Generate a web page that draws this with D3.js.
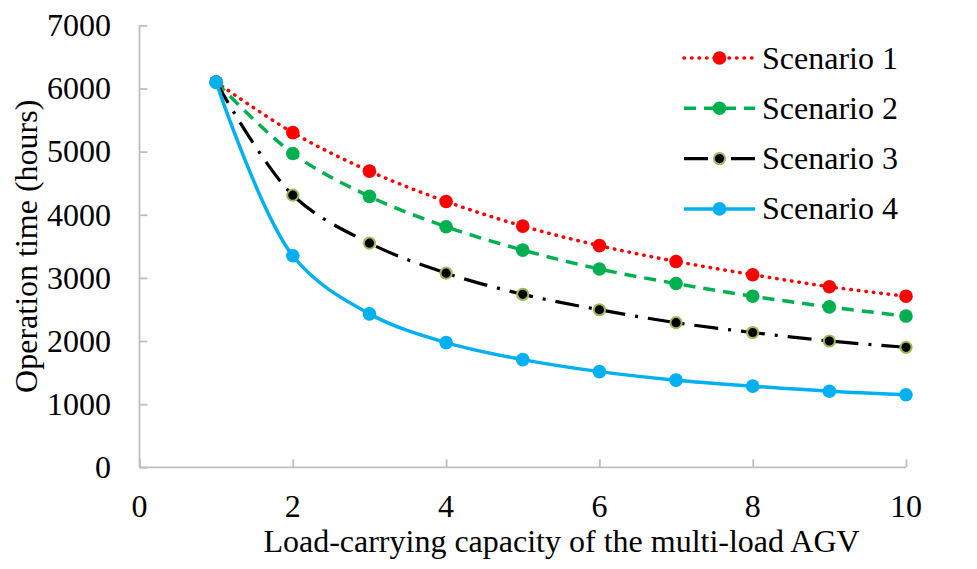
<!DOCTYPE html>
<html>
<head>
<meta charset="utf-8">
<script src="https://cdn.jsdelivr.net/npm/d3@7"></script>
<style>
  html, body { margin: 0; padding: 0; background: #fff; }
  svg { display: block; }
  text { font-family: "Liberation Serif", "Times New Roman", serif; fill: #000; }
</style>
</head>
<body>
<svg id="chart" width="977" height="569"></svg>
<script>
// Load-carrying capacity of the multi-load AGV
const capacities = [1, 2, 3, 4, 5, 6, 7, 8, 9, 10];

// Operation time (hours) per scenario
const scenario1 = [6100, 5300, 4690, 4210, 3820, 3510, 3260, 3050, 2860, 2710];
const scenario2 = [6100, 4970, 4290, 3810, 3440, 3140, 2910, 2710, 2540, 2395];
const scenario3 = [6100, 4310, 3550, 3075, 2740, 2495, 2290, 2135, 2000, 1900];
const scenario4 = [6100, 3350, 2430, 1975, 1705, 1515, 1380, 1285, 1205, 1150];

const seriesNames = ["Scenario 1", "Scenario 2", "Scenario 3", "Scenario 4"];
const xTicks = [0, 2, 4, 6, 8, 10];
const yTicks = [0, 1000, 2000, 3000, 4000, 5000, 6000, 7000];

const styles = [
  { color: "#FF0000", width: 3.5, dash: "0.5 7", cap: "round", fill: "#FF0000", stroke: "none", r: 6.8 },
  { color: "#00B050", width: 3.5, dash: "12 8", cap: "butt", fill: "#00B050", stroke: "none", r: 6.8 },
  { color: "#000000", width: 3.2, dash: "24 10 3 10", cap: "butt", fill: "#000000", stroke: "#9BBB59", r: 5.6 },
  { color: "#00B0F0", width: 3.5, dash: null, cap: "butt", fill: "#00B0F0", stroke: "none", r: 6.8 }
];

const seriesValues = [scenario1, scenario2, scenario3, scenario4];
const series = seriesNames.map((name, i) => ({
  name,
  style: styles[i],
  points: capacities.map((c, j) => ({ x: c, y: seriesValues[i][j] }))
}));

const svg = d3.select("#chart");
const margin = { left: 139.5, right: 906, top: 25.3, bottom: 467.3 };

const x = d3.scaleLinear().domain([0, 10]).range([margin.left, margin.right]);
const y = d3.scaleLinear().domain([0, 7000]).range([margin.bottom, margin.top]);

const fontSize = 32;
const axisColor = "#BFBFBF";

// Y axis: ticks drawn inward
const yAxis = svg.append("g")
  .attr("transform", `translate(${margin.left},0)`)
  .call(d3.axisRight(y).tickValues(yTicks).tickSize(8).tickFormat(""));
yAxis.select(".domain").attr("stroke", axisColor).attr("stroke-width", 1.8).attr("d", `M0,${margin.top}V${margin.bottom}`);
yAxis.selectAll(".tick line").attr("stroke", axisColor).attr("stroke-width", 1.8);

svg.append("g").selectAll("text").data(yTicks).join("text")
  .attr("x", 111)
  .attr("y", d => y(d))
  .attr("dy", "0.34em")
  .attr("text-anchor", "end")
  .attr("font-size", fontSize)
  .text(d => d);

// X axis: ticks drawn inward
const xAxis = svg.append("g")
  .attr("transform", `translate(0,${margin.bottom})`)
  .call(d3.axisTop(x).tickValues(xTicks).tickSize(8).tickFormat(""));
xAxis.select(".domain").attr("stroke", axisColor).attr("stroke-width", 1.8).attr("d", `M${margin.left},0H${margin.right}`);
xAxis.selectAll(".tick line").attr("stroke", axisColor).attr("stroke-width", 1.8);

svg.append("g").selectAll("text").data(xTicks).join("text")
  .attr("x", d => x(d))
  .attr("y", 517)
  .attr("text-anchor", "middle")
  .attr("font-size", fontSize)
  .text(d => d);

// Axis titles
svg.append("text")
  .attr("x", 561.5)
  .attr("y", 552)
  .attr("text-anchor", "middle")
  .attr("font-size", fontSize)
  .text("Load-carrying capacity of the multi-load AGV");

svg.append("text")
  .attr("transform", `translate(37,${(margin.top + margin.bottom) / 2}) rotate(-90)`)
  .attr("text-anchor", "middle")
  .attr("font-size", fontSize)
  .text("Operation time (hours)");

// Smoothed series lines with markers
const line = d3.line()
  .x(d => x(d.x))
  .y(d => y(d.y))
  .curve(d3.curveCatmullRom.alpha(0.5));

const plot = svg.append("g");
series.forEach(s => {
  const g = plot.append("g");
  g.append("path")
    .datum(s.points)
    .attr("d", line)
    .attr("fill", "none")
    .attr("stroke", s.style.color)
    .attr("stroke-width", s.style.width)
    .attr("stroke-linecap", s.style.cap)
    .attr("stroke-dasharray", s.style.dash);
  g.selectAll("circle").data(s.points).join("circle")
    .attr("cx", d => x(d.x))
    .attr("cy", d => y(d.y))
    .attr("r", s.style.r)
    .attr("fill", s.style.fill)
    .attr("stroke", s.style.stroke)
    .attr("stroke-width", s.style.stroke === "none" ? 0 : 2);
});

// Legend
const legend = svg.append("g");
series.forEach((s, i) => {
  const ly = 58 + i * 50.3;
  const g = legend.append("g");
  g.append("line")
    .attr("x1", 684).attr("x2", 755)
    .attr("y1", ly).attr("y2", ly)
    .attr("stroke", s.style.color)
    .attr("stroke-width", s.style.width)
    .attr("stroke-linecap", s.style.cap)
    .attr("stroke-dasharray", s.style.dash);
  g.append("circle")
    .attr("cx", 719.5).attr("cy", ly)
    .attr("r", s.style.r)
    .attr("fill", s.style.fill)
    .attr("stroke", s.style.stroke)
    .attr("stroke-width", s.style.stroke === "none" ? 0 : 2);
  g.append("text")
    .attr("x", 762)
    .attr("y", ly)
    .attr("dy", "0.33em")
    .attr("font-size", fontSize)
    .text(s.name);
});
</script>
</body>
</html>
